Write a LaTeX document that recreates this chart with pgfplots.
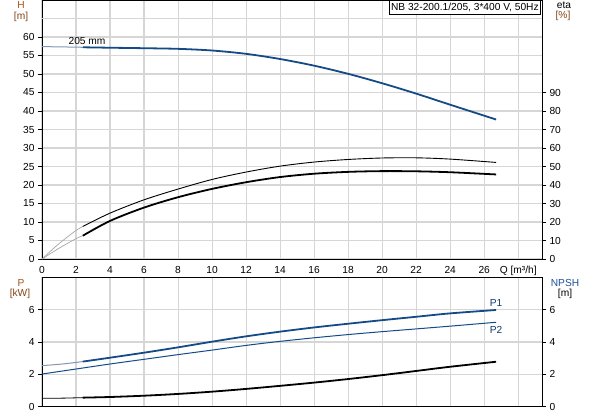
\documentclass[border=0pt]{standalone}
\usepackage{pgfplots}
\pgfplotsset{compat=1.18}
\usepackage{fontspec}
\setmainfont{Liberation Sans}
\definecolor{cblue}{RGB}{20,75,135}
\definecolor{lblue}{RGB}{130,150,180}
\definecolor{gridc}{RGB}{214,214,214}
\definecolor{lbl}{RGB}{165,85,25}
\definecolor{npshc}{RGB}{30,80,150}
\begin{document}
\begin{tikzpicture}
\useasboundingbox (0pt,0pt) rectangle (593pt,415pt);
\pgfplotsset{
  base/.style={scale only axis, width=500pt, xmin=0, xmax=29.4,
    xtick={0,2,...,28}, grid=major,
    major grid style={gridc, line width=1.1pt},
    axis line style={black, line width=0.9pt},
    tick style={black, line width=0.6pt},
    tick align=outside, major tick length=4pt,
    xtick style={draw=none},
    tick label style={font=\fontsize{10.2}{11}\selectfont},
    /pgf/number format/assume math mode=true,
    anchor=south west, clip=false},
  over/.style={scale only axis, width=500pt, xmin=0, xmax=29.4,
    axis x line=none, axis y line*=right,
    axis line style={black, line width=0.9pt},
    tick style={black, line width=0.6pt},
    tick align=outside, major tick length=4pt,
    tick label style={font=\fontsize{10.2}{11}\selectfont},
    /pgf/number format/assume math mode=true,
    anchor=south west, clip=false}
}
% ---------- top: H and eta ----------
\begin{axis}[base, at={(42pt,156pt)}, height=259pt,
  ymin=0, ymax=70, ytick={0,5,...,60}, ytick pos=left,
  extra y ticks={65}, extra y tick labels={},
  extra y tick style={major tick length=0pt, grid=major},
  xticklabels={0,2,4,6,8,10,12,14,16,18,20,22,24,26,{Q [m³/h]}}]
\addplot[lblue, line width=1pt, smooth] coordinates {(0,57.4)(1.2,57.32)(2.4,57.22)};
\addplot[cblue, line width=1.8pt, smooth] coordinates {
(2.4,57.22)(4,57.1)(6,56.97)(8,56.8)(10,56.35)(12,55.45)(14,54.05)(16,52.25)(18,50.05)(20,47.5)(22,44.7)(24,41.7)(26.7,37.7)};
\node[font=\fontsize{10.2}{11}\selectfont] at (axis cs:2.65,58.8) {205 mm};
\end{axis}
\begin{axis}[over, at={(42pt,156pt)}, height=259pt,
  ymin=0, ymax=140, ytick={0,10,...,90}]
\addplot[gray!70, line width=0.7pt, smooth] coordinates {(0,0)(1,8.3)(2,15.4)(2.4,17.6)};
\addplot[black, line width=0.9pt, smooth] coordinates {
(2.4,17.6)(4,24.8)(6,32)(8,37.8)(10,43.0)(12,47.0)(14,50.2)(16,52.4)(18,53.8)(20,54.6)(22,54.7)(24,54.0)(26.7,52.2)};
\addplot[gray!70, line width=0.7pt, smooth] coordinates {(0,0)(1,5.8)(2,11)(2.4,12.6)};
\addplot[black, line width=1.8pt, smooth] coordinates {
(2.4,12.6)(4,20.6)(6,27.8)(8,33.4)(10,37.9)(12,41.5)(14,44.3)(16,46.1)(18,47.1)(20,47.5)(22,47.4)(24,46.9)(26.7,45.7)};
\end{axis}
% ---------- bottom: P and NPSH ----------
\begin{axis}[base, at={(42pt,8.3pt)}, height=129.4pt,
  ymin=0, ymax=8, ytick={0,2,4,6}, ytick pos=left, xticklabels={}]
\addplot[lblue, line width=1pt, smooth] coordinates {(0,2.54)(1.2,2.64)(2.4,2.79)};
\addplot[cblue, line width=1.8pt, smooth] coordinates {
(2.4,2.79)(4,3.03)(6,3.34)(8,3.67)(10,4.02)(12,4.35)(14,4.64)(16,4.90)(18,5.13)(20,5.35)(22,5.56)(24,5.77)(26.7,5.98)};
\addplot[cblue, line width=1pt, smooth] coordinates {
(0,2.02)(2,2.33)(4,2.64)(6,2.93)(8,3.22)(10,3.5)(12,3.79)(14,4.04)(16,4.26)(18,4.46)(20,4.64)(22,4.81)(24,4.98)(26.7,5.22)};
\node[font=\fontsize{10.2}{11}\selectfont, text=cblue!80!black] at (axis cs:26.7,6.41) {P1};
\node[font=\fontsize{10.2}{11}\selectfont, text=cblue!80!black] at (axis cs:26.7,4.75) {P2};
\end{axis}
\begin{axis}[over, at={(42pt,8.3pt)}, height=129.4pt,
  ymin=0, ymax=8, ytick={0,2,4,6}]
\addplot[black, line width=0.8pt] coordinates {(0,0.52)(1.3,0.53)(2.4,0.56)};
\addplot[black, line width=1.8pt, smooth] coordinates {
(2.4,0.56)(4,0.6)(6,0.68)(8,0.79)(10,0.93)(12,1.10)(14,1.29)(16,1.49)(18,1.71)(20,1.95)(22,2.21)(24,2.47)(26.7,2.78)};
\end{axis}
% ---------- labels ----------
\begin{scope}[every node/.style={font=\fontsize{10.2}{11}\selectfont, inner sep=0pt}]
\node[text=lbl] at (21pt,410pt) {H};
\node[text=lbl!80!black] at (21pt,398pt) {[m]};
\node at (564pt,410pt) {eta};
\node[text=lbl!80!black] at (563pt,399pt) {[\%]};
\node[text=lbl] at (21pt,132pt) {P};
\node[text=lbl!80!black] at (20pt,121pt) {[kW]};
\node[text=npshc] at (565pt,132pt) {NPSH};
\node at (565pt,121pt) {[m]};
\node[draw=black, line width=0.6pt, fill=white, inner xsep=2pt, inner ysep=2pt, minimum height=14pt, anchor=north east] at (541pt,415.3pt) {NB 32-200.1/205, 3*400 V, 50Hz};
\end{scope}
\end{tikzpicture}
\end{document}
